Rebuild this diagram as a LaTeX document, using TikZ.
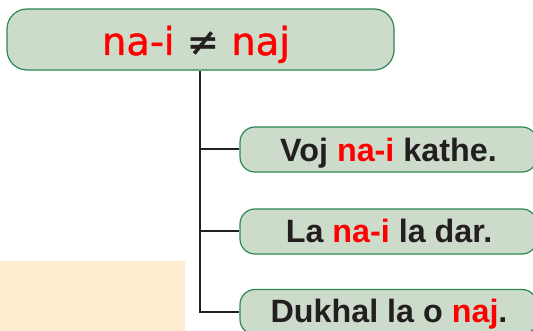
\documentclass[tikz,border=0pt]{standalone}
\usepackage{fontspec}
\setmainfont{Liberation Sans}
\newfontfamily\dejavu[FakeBold=1.2]{DejaVu Sans}
\definecolor{boxfill}{RGB}{205,220,202}
\definecolor{boxline}{RGB}{45,135,80}
\definecolor{peach}{RGB}{254,237,208}
\definecolor{wordred}{RGB}{255,0,0}
\definecolor{ink}{RGB}{35,31,32}
\tikzset{
  bigbox/.style={draw=boxline, fill=boxfill, line width=1.2pt, rounded corners=20pt, minimum width=387pt, minimum height=61pt, inner sep=0pt},
  smallbox/.style={draw=boxline, fill=boxfill, line width=1.2pt, rounded corners=15pt, minimum width=297pt, minimum height=45pt, inner sep=0pt},
  boxtext/.style={anchor=base, inner sep=0pt, font=\fontsize{32.3}{36}\selectfont\bfseries, text=ink},
  toptext/.style={anchor=base, inner sep=0pt, font=\dejavu\fontsize{38.5}{42}\selectfont},
  tree/.style={draw=ink, line width=2pt}
}
\begin{document}
\begin{tikzpicture}[x=1pt,y=-1pt]
\useasboundingbox (0,0) rectangle (533,331);
\clip (0,0) rectangle (533,331);
\fill[peach] (0,261) rectangle (185,335);
\node[bigbox] (top) at (200.5,39.5) {};
\node[toptext] (toplabel) at (196,55) {\textcolor{wordred}{na-i} \textcolor{ink}{≠} \textcolor{wordred}{naj}};
\node[smallbox] (b1) at (388.5,149.5) {};
\node[smallbox] (b2) at (388.5,231.5) {};
\node[smallbox] (b3) at (388.5,312) {};
\node[boxtext] (t1) at (388.5,161.5) {Voj \textcolor{wordred}{na-i} kathe.};
\node[boxtext] (t2) at (389,243) {La \textcolor{wordred}{na-i} la dar.};
\node[boxtext] (t3) at (389,323) {Dukhal la o \textcolor{wordred}{naj}.};
\coordinate (trunk) at (200,310);
\draw[tree] (top.south -| trunk) |- (b3.west);
\draw[tree] (b1.west -| trunk) -- (b1.west);
\draw[tree] (b2.west -| trunk) -- (b2.west);
\end{tikzpicture}
\end{document}
